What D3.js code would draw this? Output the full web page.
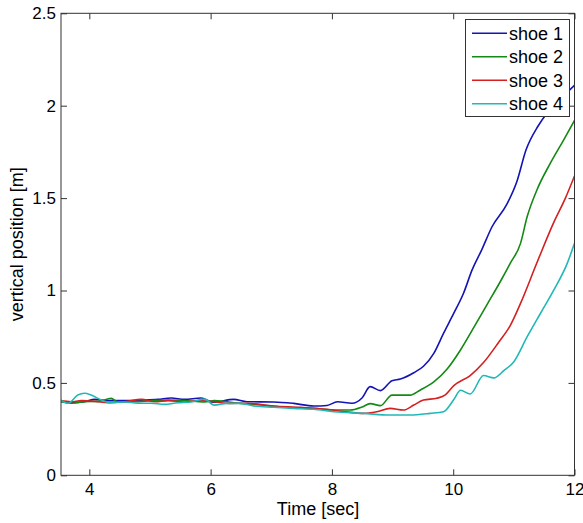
<!DOCTYPE html>
<html>
<head>
<meta charset="utf-8">
<script src="https://d3js.org/d3.v7.min.js"></script>
<style>
  html, body { margin: 0; padding: 0; background: #fff; }
  svg { display: block; }
  text { font-family: "Liberation Sans", Arial, Helvetica, sans-serif; }
</style>
</head>
<body>
<svg id="chart" width="583" height="523"></svg>
<script>
// ---- data ----
const seriesNames = ["shoe 1", "shoe 2", "shoe 3", "shoe 4"];
const seriesColors = ["#1414b4", "#138a13", "#d42020", "#22b8b8"];

const shoe1T = [3.53, 3.7, 3.92, 4.09, 4.31, 4.58, 4.86, 5.13, 5.35, 5.57, 5.84, 6.05, 6.38, 6.6, 7.04, 7.37, 7.7, 7.92, 8.09, 8.33, 8.5, 8.63, 8.8, 8.99, 9.13, 9.35, 9.51, 9.68, 9.84, 10.01, 10.17, 10.31, 10.47, 10.64, 10.89, 11.05, 11.2, 11.4, 11.55, 11.75, 12.0];
const shoe1Y = [0.40, 0.393, 0.398, 0.411, 0.404, 0.404, 0.407, 0.411, 0.418, 0.411, 0.418, 0.395, 0.411, 0.398, 0.397, 0.389, 0.375, 0.378, 0.398, 0.39, 0.42, 0.48, 0.458, 0.512, 0.521, 0.555, 0.59, 0.66, 0.768, 0.877, 0.985, 1.11, 1.22, 1.345, 1.47, 1.59, 1.76, 1.89, 1.96, 2.03, 2.11];

const shoe2T = [3.53, 3.7, 3.92, 4.15, 4.36, 4.47, 4.75, 5.02, 5.3, 5.57, 5.9, 6.06, 6.49, 6.82, 7.26, 7.7, 8.03, 8.3, 8.5, 8.63, 8.8, 8.99, 9.29, 9.46, 9.68, 9.9, 10.12, 10.34, 10.56, 10.78, 10.94, 11.11, 11.22, 11.38, 11.6, 11.82, 12.0];
const shoe2Y = [0.398, 0.39, 0.398, 0.40, 0.416, 0.398, 0.398, 0.404, 0.407, 0.404, 0.397, 0.404, 0.389, 0.38, 0.368, 0.362, 0.353, 0.353, 0.37, 0.388, 0.377, 0.434, 0.434, 0.462, 0.505, 0.575, 0.678, 0.80, 0.925, 1.05, 1.147, 1.255, 1.40, 1.544, 1.688, 1.814, 1.92];

const shoe3T = [3.53, 3.7, 3.87, 4.1, 4.31, 4.58, 4.86, 5.08, 5.3, 5.57, 5.8, 6.05, 6.33, 6.6, 7.04, 7.48, 7.92, 8.2, 8.52, 8.74, 8.96, 9.18, 9.35, 9.51, 9.73, 9.87, 10.01, 10.28, 10.5, 10.75, 10.94, 11.11, 11.38, 11.66, 11.85, 12.0];
const shoe3Y = [0.404, 0.398, 0.404, 0.40, 0.393, 0.398, 0.411, 0.398, 0.404, 0.397, 0.404, 0.398, 0.389, 0.39, 0.375, 0.368, 0.357, 0.345, 0.335, 0.344, 0.362, 0.353, 0.38, 0.407, 0.417, 0.435, 0.485, 0.54, 0.61, 0.72, 0.81, 0.93, 1.15, 1.37, 1.50, 1.62];

const shoe4T = [3.53, 3.65, 3.81, 3.92, 4.03, 4.2, 4.36, 4.58, 4.8, 5.02, 5.24, 5.46, 5.68, 5.9, 6.06, 6.27, 6.5, 6.71, 7.04, 7.37, 7.7, 8.03, 8.52, 8.96, 9.29, 9.62, 9.84, 10.01, 10.12, 10.28, 10.5, 10.67, 10.83, 11.0, 11.22, 11.44, 11.66, 11.88, 12.0];
const shoe4Y = [0.407, 0.39, 0.435, 0.444, 0.435, 0.407, 0.393, 0.397, 0.39, 0.39, 0.384, 0.393, 0.397, 0.412, 0.38, 0.389, 0.389, 0.375, 0.368, 0.362, 0.357, 0.344, 0.335, 0.326, 0.326, 0.335, 0.344, 0.41, 0.46, 0.44, 0.54, 0.527, 0.565, 0.615, 0.75, 0.877, 1.003, 1.147, 1.255];

const xTicks = [4, 6, 8, 10, 12];
const yTicks = [0, 0.5, 1, 1.5, 2, 2.5];
const xLabel = "Time [sec]";
const yLabel = "vertical position [m]";

(function () {
  // ---- layout ----
  const svg = d3.select("#chart");
  const pLeft = 61, pRight = 574.5, pTop = 13.3, pBottom = 475.3;
  const x = d3.scaleLinear().domain([3.533, 12]).range([pLeft, pRight]);
  const y = d3.scaleLinear().domain([0, 2.5]).range([pBottom, pTop]);
  const axisColor = "#333";

  const series = seriesNames.map((name, i) => ({
    name, color: seriesColors[i],
    t: [shoe1T, shoe2T, shoe3T, shoe4T][i],
    v: [shoe1Y, shoe2Y, shoe3Y, shoe4Y][i]
  }));

  svg.append("defs").append("clipPath").attr("id", "plotclip")
    .append("rect").attr("x", pLeft).attr("y", pTop)
    .attr("width", pRight - pLeft).attr("height", pBottom - pTop);

  // lines
  const line = d3.line().x(d => x(d[0])).y(d => y(d[1])).curve(d3.curveMonotoneX);
  const g = svg.append("g").attr("clip-path", "url(#plotclip)");
  series.forEach(s => {
    g.append("path")
      .datum(s.t.map((t, i) => [t, s.v[i]]))
      .attr("fill", "none")
      .attr("stroke", s.color)
      .attr("stroke-width", 1.6)
      .attr("d", line);
  });

  // axes (Matlab-style box with inward ticks)
  function styleAxis(sel) {
    sel.select(".domain").remove();
    sel.selectAll(".tick line").attr("stroke", axisColor);
    sel.selectAll(".tick text").attr("fill", "#000").style("font-size", "17px");
  }
  const xAxisB = d3.axisBottom(x).tickValues(xTicks).tickFormat(d3.format("d")).tickSizeInner(-6).tickPadding(7.5);
  svg.append("g").attr("transform", `translate(0,${pBottom})`).call(xAxisB).call(styleAxis);
  const xAxisT = d3.axisTop(x).tickValues(xTicks).tickFormat("").tickSizeInner(-6);
  svg.append("g").attr("transform", `translate(0,${pTop})`).call(xAxisT).call(styleAxis);
  const yAxisL = d3.axisLeft(y).tickValues(yTicks).tickFormat(d => String(d)).tickSizeInner(-6).tickPadding(5);
  svg.append("g").attr("transform", `translate(${pLeft},0)`).call(yAxisL).call(styleAxis);
  const yAxisR = d3.axisRight(y).tickValues(yTicks).tickFormat("").tickSizeInner(-6);
  svg.append("g").attr("transform", `translate(${pRight},0)`).call(yAxisR).call(styleAxis);

  // box
  svg.append("rect").attr("x", pLeft).attr("y", pTop)
    .attr("width", pRight - pLeft).attr("height", pBottom - pTop)
    .attr("fill", "none").attr("stroke", axisColor).attr("stroke-width", 1);

  // axis labels
  svg.append("text").attr("x", 318).attr("y", 515)
    .attr("text-anchor", "middle").style("font-size", "18px").text(xLabel);
  svg.append("text").attr("transform", `translate(23,${(pTop + pBottom) / 2}) rotate(-90)`)
    .attr("text-anchor", "middle").style("font-size", "18px").text(yLabel);

  // legend
  const lg = svg.append("g");
  const lgX = 465.5, lgY = 19.5, lgW = 104, lgH = 97;
  lg.append("rect").attr("x", lgX).attr("y", lgY).attr("width", lgW).attr("height", lgH)
    .attr("fill", "#fff").attr("stroke", axisColor).attr("stroke-width", 1);
  series.forEach((s, i) => {
    const cy = 33.3 + i * 23.5;
    lg.append("line").attr("x1", 472).attr("x2", 507).attr("y1", cy).attr("y2", cy)
      .attr("stroke", s.color).attr("stroke-width", 1.5);
    lg.append("text").attr("x", 509).attr("y", cy).attr("dy", "0.36em")
      .style("font-size", "18px").text(s.name);
  });
})();
</script>
</body>
</html>
